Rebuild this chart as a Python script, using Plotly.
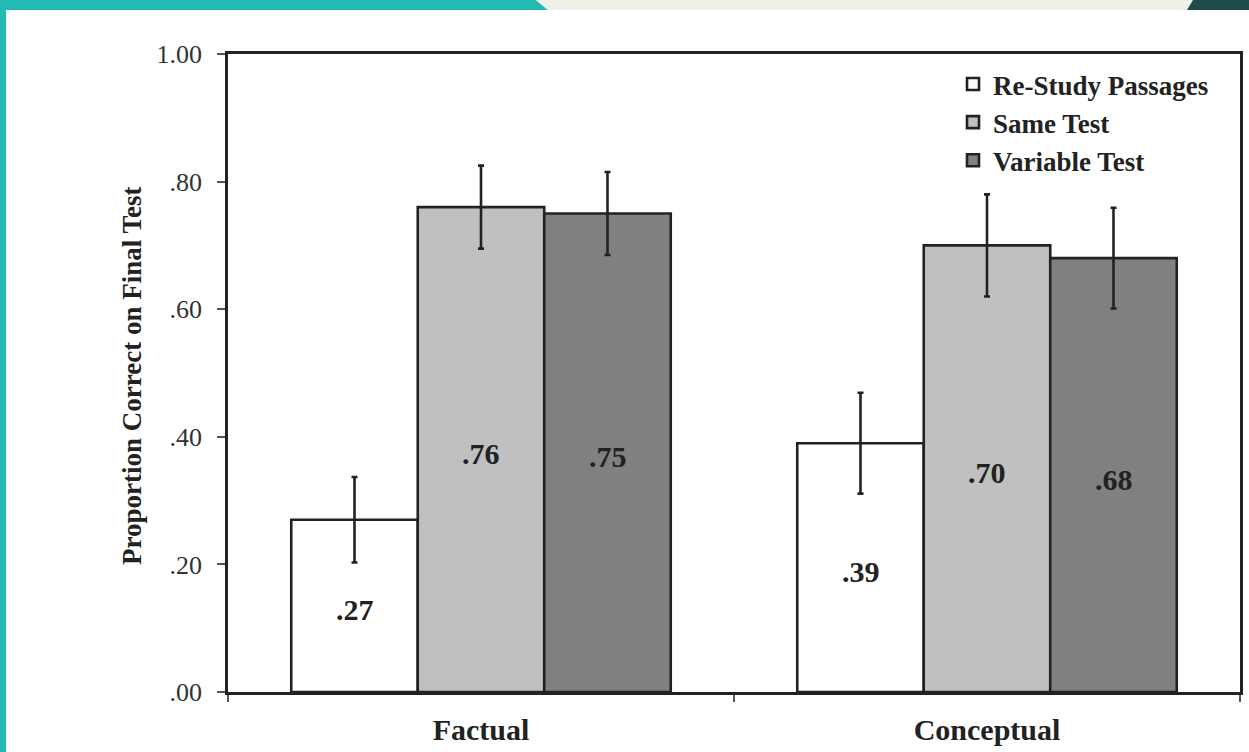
import plotly.graph_objects as go

# ---------------- data ----------------
categories = ["Factual", "Conceptual"]
series_names = ["Re-Study Passages", "Same Test", "Variable Test"]
restudy = [0.27, 0.39]
same_test = [0.76, 0.70]
variable_test = [0.75, 0.68]
restudy_err = [0.067, 0.079]
same_err = [0.065, 0.080]
variable_err = [0.065, 0.079]
y_tick_vals = [0.0, 0.2, 0.4, 0.6, 0.8, 1.0]
y_tick_labels = [".00", ".20", ".40", ".60", ".80", "1.00"]
y_title = "Proportion Correct on Final Test"

# ---------------- style ----------------
W, H = 1249, 752
L, R, T, B = 228, 9, 54, 60
SERIF = "Liberation Serif, Times New Roman, serif"
INK = "#222222"
fills = ["#ffffff", "#c0c0c0", "#808080"]
TEAL = "#22bbb3"
BEIGE = "#f0efe8"
DARK = "#214b4b"
BARGAP = 0.25

def px_x(px):
    return (px - L) / (W - L - R)

def px_y(py):
    return (H - B - py) / (H - T - B)

def fmt(v):
    return f"{v:.2f}".lstrip("0")

all_series = [restudy, same_test, variable_test]
all_errs = [restudy_err, same_err, variable_err]
n_series = len(all_series)
bar_w = (1 - BARGAP) / n_series

fig = go.Figure()
for name, vals, errs, col in zip(series_names, all_series, all_errs, fills):
    fig.add_trace(go.Bar(
        name=name, x=categories, y=vals,
        marker=dict(color=col, line=dict(color=INK, width=2.6)),
        error_y=dict(type="data", array=errs, color=INK, thickness=2.6, width=3),
        hoverinfo="skip",
    ))

# value labels inside the bars
for j, vals in enumerate(all_series):
    for i, v in enumerate(vals):
        fig.add_annotation(
            x=i + (j - (n_series - 1) / 2) * bar_w, y=v / 2,
            xref="x", yref="y", text=fmt(v), showarrow=False,
            yshift=-4,
            font=dict(family=SERIF, size=30, color=INK, weight="bold"),
        )

fig.update_layout(
    width=W, height=H,
    template="none",
    margin=dict(l=L, r=R, t=T, b=B, pad=0),
    paper_bgcolor="white", plot_bgcolor="white",
    barmode="group", bargap=BARGAP, bargroupgap=0,
    font=dict(family=SERIF, color=INK),
    showlegend=True,
    legend=dict(
        x=px_x(953), y=px_y(60), xanchor="left", yanchor="top",
        font=dict(family=SERIF, size=27, color=INK, weight="bold"),
        bgcolor="rgba(0,0,0,0)", borderwidth=0, tracegroupgap=0,
        itemwidth=30,
    ),
    xaxis=dict(
        showline=True, linecolor=INK, linewidth=2.5, mirror=True,
        ticks="outside", tickson="boundaries", ticklen=7, tickwidth=1.5,
        tickcolor="#555555", showgrid=False, zeroline=False, automargin=False,
        tickfont=dict(family=SERIF, size=30, color=INK, weight="bold"),
        ticklabelstandoff=9,
    ),
    yaxis=dict(
        range=[0, 1], tickvals=y_tick_vals, ticktext=y_tick_labels,
        showline=True, linecolor=INK, linewidth=2.5, mirror=True,
        ticks="outside", ticklen=8, tickwidth=1.5, tickcolor="#555555",
        showgrid=False, zeroline=False, automargin=False,
        tickfont=dict(family=SERIF, size=26, color="#333333"),
        ticklabelstandoff=10,
    ),
)

fig.add_annotation(
    text=y_title, textangle=-90, showarrow=False,
    xref="paper", yref="paper", x=px_x(132), y=px_y(376),
    xanchor="center", yanchor="middle",
    font=dict(family=SERIF, size=27, color=INK, weight="bold"),
)

# slide decoration: teal left stripe and top band
fig.add_shape(type="rect", xref="paper", yref="paper", layer="above",
              x0=px_x(0), x1=px_x(6), y0=px_y(H), y1=px_y(0),
              fillcolor=TEAL, line=dict(width=0))
fig.add_shape(type="path", xref="paper", yref="paper", layer="above",
              path=f"M {px_x(0)},{px_y(0)} L {px_x(536)},{px_y(0)} L {px_x(548)},{px_y(10)} L {px_x(0)},{px_y(10)} Z",
              fillcolor=TEAL, line=dict(width=0))
fig.add_shape(type="path", xref="paper", yref="paper", layer="above",
              path=f"M {px_x(536)},{px_y(0)} L {px_x(1193)},{px_y(0)} L {px_x(1187)},{px_y(10)} L {px_x(548)},{px_y(10)} Z",
              fillcolor=BEIGE, line=dict(width=0))
fig.add_shape(type="path", xref="paper", yref="paper", layer="above",
              path=f"M {px_x(1193)},{px_y(0)} L {px_x(W)},{px_y(0)} L {px_x(W)},{px_y(10)} L {px_x(1187)},{px_y(10)} Z",
              fillcolor=DARK, line=dict(width=0))

fig.write_html(
    "out.html",
    config={"displayModeBar": False},
    post_script="document.body.style.margin='0px';document.body.style.overflow='hidden';",
)
